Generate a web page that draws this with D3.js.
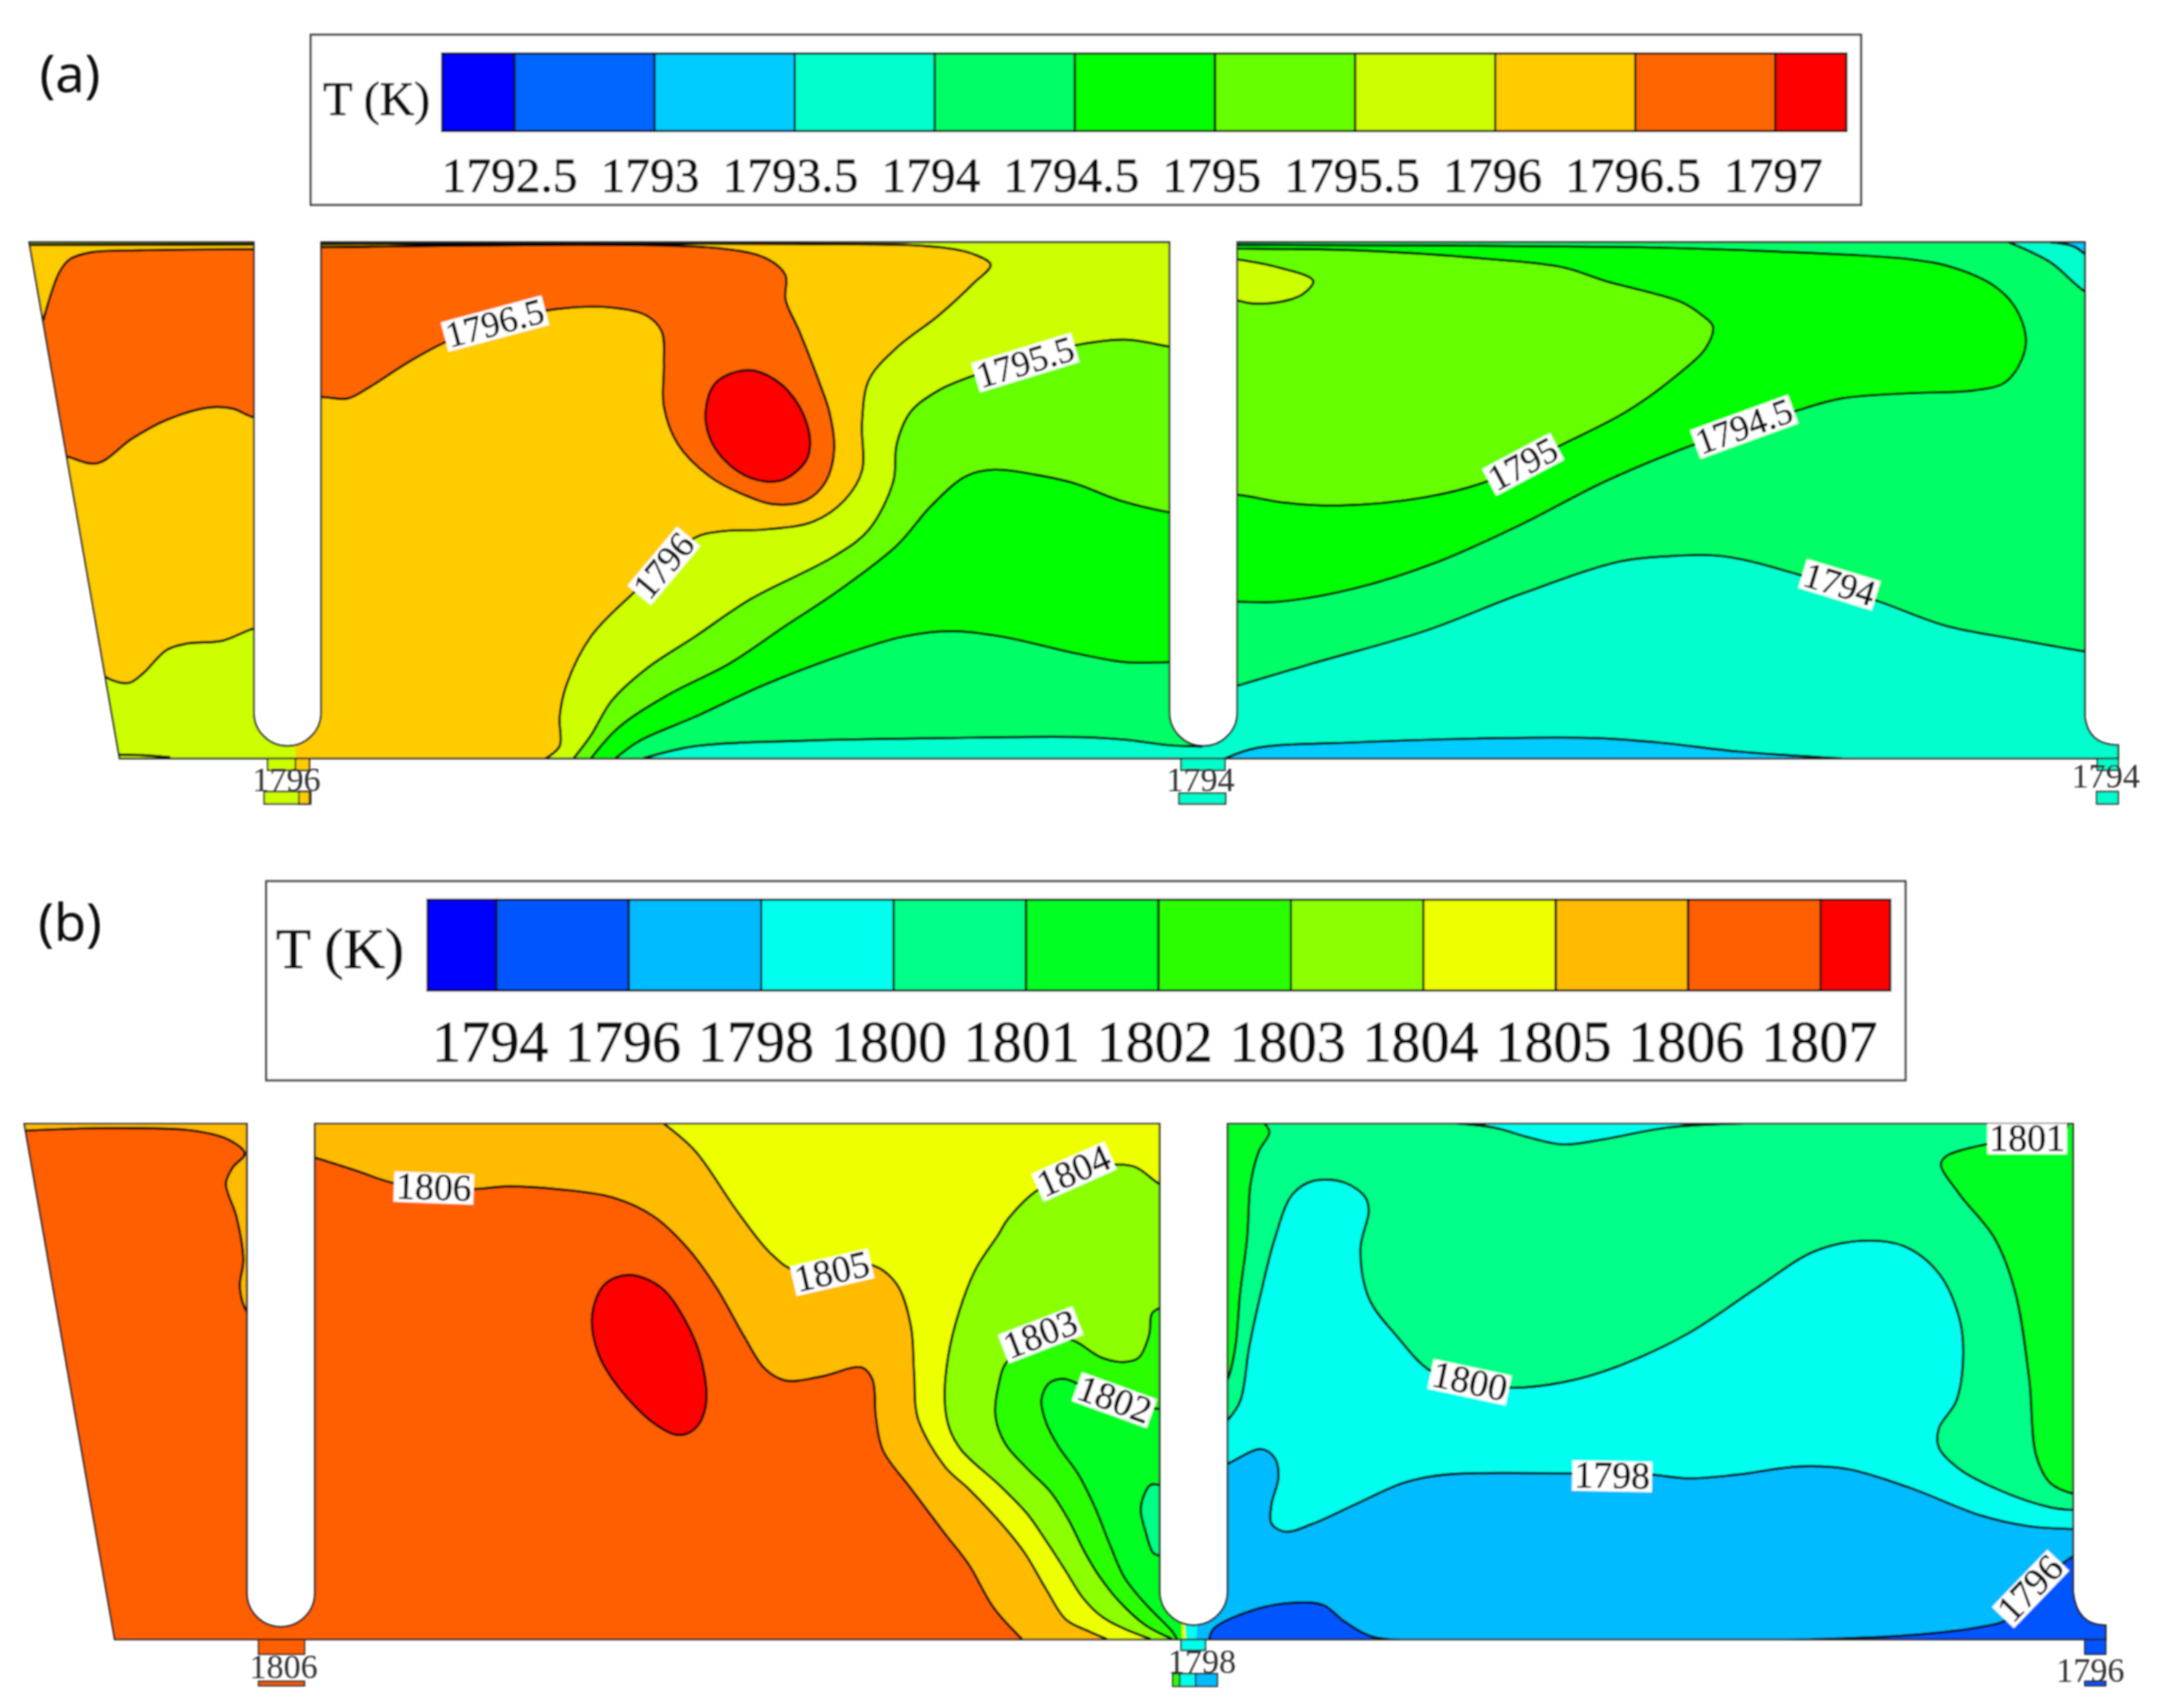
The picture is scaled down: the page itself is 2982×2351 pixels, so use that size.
<!DOCTYPE html>
<html>
<head>
<meta charset="utf-8">
<script src="https://cdn.jsdelivr.net/npm/d3@7"></script>
<style>
  html, body { margin: 0; padding: 0; background: #fff; }
  svg { display: block; }
</style>
</head>
<body>
<div id="vis"></div>
<script type="text/javascript">
// legend levels
const levelsA = ["1792.5","1793","1793.5","1794","1794.5","1795","1795.5","1796","1796.5","1797"];
const colorsA = ["#0000ff","#0066ff","#00ccff","#00ffcc","#00ff66","#00ff00","#66ff00","#ccff00","#ffcc00","#ff6600","#ff0000"];
const levelsB = ["1794","1796","1798","1800","1801","1802","1803","1804","1805","1806","1807"];
const colorsB = ["#0000ff","#0055ff","#00bbff","#00ffee","#00ff88","#00ff22","#2bff00","#8cff00","#eeff00","#ffbb00","#ff5f00","#ff0000"];

// panel (a) contours, in grid units
const a_hotLeft = [[62,600],[85,510],[100,485],[130,472],[200,468],[365,466],[410,466],[425,620],[410,780],[365,780],[335,764],[300,762],[240,785],[190,820],[140,866],[100,855],[50,830]];
const a_coolLeft = [[140,1250],[155,1268],[185,1277],[205,1260],[240,1215],[270,1203],[320,1198],[365,1175],[425,1160]];
const a_hotMid = [[420,742],[462,742],[500,745],[530,725],[590,675],[640,640],[720,600],[800,578],[880,575],[930,590],[952,620],[955,680],[955,760],[975,830],[1020,890],[1070,925],[1115,943],[1160,935],[1188,900],[1200,840],[1193,770],[1180,720],[1150,620],[1130,560],[1130,515],[1105,485],[1040,465],[462,462],[420,462]];
const a_peak = [[1075,692],[1115,710],[1150,760],[1165,820],[1160,860],[1130,895],[1100,900],[1060,880],[1025,830],[1015,770],[1030,715]];
const a_1796 = [[785,1418],[805,1395],[805,1340],[815,1280],[850,1190],[910,1110],[955,1058],[1000,1005],[1040,993],[1100,990],[1170,975],[1215,935],[1240,880],[1240,790],[1250,710],[1290,650],[1350,590],[1400,530],[1425,495],[1400,475],[1350,462],[1140,456],[462,456],[365,457],[30,458]];
const a_1795_5 = [[825,1418],[850,1375],[880,1310],[930,1250],[1000,1190],[1080,1120],[1200,1040],[1250,990],[1285,900],[1290,830],[1310,770],[1350,730],[1405,700],[1475,670],[1549,645],[1619,635],[1682,648],[1720,655]];
const a_1795 = [[850,1418],[890,1360],[960,1300],[1050,1240],[1130,1170],[1200,1110],[1290,1020],[1340,945],[1390,890],[1430,878],[1500,890],[1549,905],[1609,935],[1682,958],[1720,965]];
const a_1794_5 = [[885,1418],[920,1385],[1000,1340],[1100,1280],[1200,1230],[1300,1190],[1370,1180],[1440,1190],[1549,1222],[1619,1238],[1682,1238],[1720,1238]];
const a_1794 = [[925,1418],[1000,1395],[1150,1385],[1350,1380],[1549,1378],[1619,1383],[1679,1393],[1735,1396]];
const a_r1794 = [[1740,1298],[1780,1282],[1889,1240],[2049,1180],[2189,1110],[2329,1050],[2399,1040],[2479,1040],[2589,1075],[2704,1125],[2799,1170],[2899,1195],[2999,1218],[3040,1225]];
const a_r1794_5 = [[1740,1125],[1780,1125],[1839,1125],[1949,1100],[2069,1050],[2189,980],[2309,900],[2439,830],[2579,770],[2649,745],[2749,735],[2839,730],[2884,715],[2909,670],[2914,630],[2899,575],[2869,535],[2809,500],[2749,485],[2549,470],[2349,462],[1780,458],[1740,458]];
const a_r1795 = [[1740,925],[1780,925],[1849,940],[1929,945],[2049,930],[2139,900],[2249,830],[2339,770],[2409,705],[2454,650],[2464,610],[2449,590],[2419,565],[2309,525],[2249,500],[2149,485],[1949,468],[1780,465],[1740,465]];
const a_r1795_5 = [[1740,480],[1780,485],[1839,500],[1889,525],[1874,550],[1839,565],[1799,567],[1780,562],[1740,560]];
const a_corner = [[2889,453],[2949,490],[2999,545],[3040,570]];
const a_cornerBlue = [[2949,453],[2985,462],[3010,490]];
const a_floorBlue = [[1762,1418],[1809,1398],[1949,1388],[2149,1380],[2299,1380],[2399,1390],[2499,1405],[2649,1418]];
const a_floorTick = [[172,1411],[205,1412],[245,1416]];

// panel (b) contours, in grid units
const b_leftStrip = [[30,503],[150,498],[280,503],[330,520],[352,545],[335,570],[325,600],[340,660],[350,740],[345,790],[355,835],[380,860]];
const b_1806 = [[420,540],[453,552],[510,575],[570,600],[680,610],[730,605],[800,610],[880,625],[940,660],[990,720],[1030,790],[1070,880],[1100,940],[1130,962],[1180,955],[1240,938],[1255,960],[1260,1030],[1270,1090],[1310,1160],[1359,1243],[1394,1301],[1429,1379],[1470,1437]];
const b_peak = [[905,768],[950,790],[985,850],[1010,930],[1015,1010],[1000,1050],[975,1062],[940,1040],[890,975],[860,910],[852,840],[870,785]];
const b_1805 = [[955,490],[1000,540],[1060,650],[1110,730],[1145,760],[1255,750],[1290,785],[1310,860],[1315,950],[1320,1030],[1359,1120],[1394,1162],[1443,1229],[1474,1279],[1505,1346],[1533,1401],[1568,1424],[1592,1437]];
const b_1804 = [[1700,620],[1667,600],[1634,570],[1604,565],[1570,575],[1495,610],[1450,665],[1436,694],[1404,756],[1380,834],[1364,917],[1359,1001],[1366,1051],[1383,1090],[1439,1156],[1477,1206],[1505,1257],[1533,1312],[1558,1362],[1585,1396],[1617,1418],[1655,1437]];
const b_1803 = [[1700,815],[1669,828],[1657,839],[1653,878],[1638,920],[1617,928],[1585,920],[1537,886],[1497,900],[1450,925],[1436,973],[1432,1028],[1446,1078],[1477,1123],[1512,1168],[1537,1218],[1561,1279],[1582,1323],[1610,1368],[1648,1412],[1686,1437]];
const b_1802 = [[1700,1014],[1669,1014],[1659,1013],[1603,995],[1549,967],[1530,959],[1509,967],[1498,998],[1505,1040],[1523,1084],[1551,1134],[1575,1195],[1596,1262],[1617,1323],[1648,1373],[1686,1423],[1693,1437]];
const b_1801 = [[1700,1154],[1669,1154],[1655,1154],[1641,1195],[1648,1240],[1659,1279],[1669,1284],[1700,1284]];
const b_rStrip = [[1745,1000],[1766,960],[1777,900],[1784,800],[1794,700],[1799,600],[1811,540],[1826,505],[1815,485]];
const b_1800 = [[1745,1060],[1766,1035],[1784,1000],[1797,900],[1814,800],[1834,700],[1859,620],[1889,595],[1934,598],[1964,625],[1969,650],[1957,720],[1969,810],[2009,880],[2059,945],[2114,962],[2169,975],[2249,965],[2329,935],[2429,875],[2529,790],[2609,725],[2679,705],[2739,715],[2789,765],[2819,850],[2824,920],[2814,1000],[2789,1050],[2789,1085],[2819,1125],[2879,1165],[2949,1195],[2982,1200],[3040,1200]];
const b_1798 = [[1745,1125],[1766,1115],[1814,1088],[1834,1105],[1839,1140],[1829,1190],[1829,1225],[1849,1240],[1889,1225],[1949,1190],[2019,1150],[2079,1135],[2264,1133],[2374,1135],[2429,1142],[2499,1135],[2589,1120],[2659,1125],[2749,1160],[2849,1210],[2919,1230],[2982,1235],[3040,1235]];
const b_topCyan = [[2079,488],[2149,497],[2199,515],[2249,528],[2309,518],[2399,497],[2554,488]];
const b_rightGreen = [[3040,1175],[2982,1170],[2949,1150],[2929,1100],[2919,960],[2899,800],[2869,700],[2819,620],[2792,565],[2799,550],[2859,527],[2916,515],[2971,500],[2976,470]];
const b_1796L = [[1739,1440],[1746,1418],[1808,1382],[1869,1370],[1904,1375],[1934,1405],[1974,1433],[2049,1440]];
const b_1796R = [[2549,1440],[2749,1430],[2849,1415],[2889,1400],[2921,1345],[2982,1285],[3040,1240]];
const b_neckCyan = [[1707,1445],[1707,1395],[1720,1395],[1720,1445]];

// contour labels: text, grid x, grid y, rotation in degrees
const labelsA = [["1796.5",712,605,-15],["1795.5",1475,678,-17],["1796",955,1058,-50],["1795",2191,868,-28],["1794.5",2509,798,-20],["1794",2646,1093,17]];
const labelsB = [["1806",624,608,2],["1805",1197,763,-13],["1804",1545,578,-24],["1803",1497,878,-21],["1802",1603,998,20],["1800",2114,965,12],["1798",2319,1138,1],["1801",2916,518,0],["1796",2921,1345,-46]];
const outletTextA = [["1796",412,1458],["1794",1727,1458],["1794",3029,1451]];
const outletTextB = [["1806",408,1488],["1798",1729,1478],["1796",3007,1495]];

// outlet stubs: x0, x1, y0, y1, fill
const outletsA = [[385,445,1418,1440,"#ccff00"],[425,445,1418,1440,"#ffcc00"],[380,447,1480,1503,"#ccff00"],[430,445,1480,1503,"#ffcc00"],[1699,1762,1418,1440,"#00ffcc"],[1696,1763,1483,1503,"#00ffcc"],[3017,3047,1418,1440,"#00ffcc"],[3016,3047,1480,1503,"#00ffcc"]];
const outletsB = [[372,438,1438,1465,"#ff5f00"],[372,438,1515,1523,"#ff5f00"],[1699,1734,1438,1458,"#00ffee"],[1687,1697,1501,1524,"#2bff00"],[1697,1720,1501,1524,"#00ffee"],[1720,1751,1501,1524,"#00bbff"],[2999,3029,1438,1465,"#0055ff"],[2999,3029,1515,1523,"#0055ff"]];

const w = 2982, h = 2351;
const serif = "'Liberation Serif', 'Times New Roman', serif";

const svg = d3.select("#vis").append("svg").attr("width", w).attr("height", h).attr("viewBox", [0, 0, w, h]);
const defs = svg.append("defs");
defs.append("filter").attr("id", "soft").attr("filterUnits", "userSpaceOnUse")
  .attr("x", 0).attr("y", 0).attr("width", w).attr("height", h)
  .append("feGaussianBlur").attr("stdDeviation", 0.9);
const root = svg.append("g").attr("filter", "url(#soft)");

const x = d3.scaleLinear().domain([0, 1568]).range([0, 1500]);
const yA = d3.scaleLinear().domain([0, 1562]).range([0, 1150]);
const yB = d3.scaleLinear().domain([0, 1564]).range([1180, 2351]);

function legend(cfg) {
  const g = root.append("g");
  const y = cfg.y;
  g.append("rect").attr("x", x(cfg.frame[0])).attr("y", y(cfg.frame[2]))
    .attr("width", x(cfg.frame[1]) - x(cfg.frame[0])).attr("height", y(cfg.frame[3]) - y(cfg.frame[2]))
    .attr("fill", "#fff").attr("stroke", "#444").attr("stroke-width", 3);
  const edge = d3.scalePoint().domain(cfg.levels).range(cfg.edges);
  const edges = [cfg.bar[0]].concat(cfg.levels.map(edge), [cfg.bar[1]]);
  g.selectAll("rect.cell").data(cfg.colors).join("rect").attr("class", "cell")
    .attr("x", (d, i) => x(edges[i])).attr("y", y(cfg.bar[2]))
    .attr("width", (d, i) => x(edges[i + 1]) - x(edges[i])).attr("height", y(cfg.bar[3]) - y(cfg.bar[2]))
    .attr("fill", d => d).attr("stroke", "#111").attr("stroke-width", 3);
  const tick = d3.scalePoint().domain(cfg.levels).range(cfg.ticks);
  g.selectAll("text.tick").data(cfg.levels).join("text").attr("class", "tick")
    .attr("x", d => x(tick(d))).attr("y", y(cfg.baseline))
    .attr("text-anchor", "middle").attr("font-family", serif).attr("font-size", cfg.font)
    .attr("fill", "#111").attr("stroke", "#111").attr("stroke-width", 1)
    .text(d => d);
  g.append("text").attr("x", x(cfg.title[0])).attr("y", y(cfg.title[1]))
    .attr("font-family", serif).attr("font-size", cfg.title[2])
    .attr("fill", "#111").attr("stroke", "#111").attr("stroke-width", 1).text("T (K)");
}

legend({y: yA, levels: levelsA, colors: colorsA, frame: [447, 2677, 65, 383], bar: [636, 2656, 100, 245],
  edges: [740, 2554], ticks: [733, 2551], baseline: 358, font: 68, title: [465, 215, 66]});
legend({y: yB, levels: levelsB, colors: colorsB, frame: [383, 2741, 44, 410], bar: [615, 2719, 78, 245],
  edges: [714, 2619], ticks: [705, 2617], baseline: 375, font: 80, title: [397, 203, 79]});

root.append("text").attr("x", x(57)).attr("y", yA(172)).attr("font-family", "'Noto Sans', sans-serif").attr("font-size", 72).attr("fill", "#111").text("(a)");
root.append("text").attr("x", x(55)).attr("y", yB(153)).attr("font-family", "'Noto Sans', sans-serif").attr("font-size", 72).attr("fill", "#111").text("(b)");

function outlinePath(d, y) {
  const p = d3.path();
  p.moveTo(x(d.left), y(d.top));
  d.stoppers.forEach(s => {
    const r = (x(s[1]) - x(s[0])) / 2;
    const cy = y(s[2]) - r;
    p.lineTo(x(s[0]), y(d.top));
    p.lineTo(x(s[0]), cy);
    p.arc(x(s[0]) + r, cy, r, Math.PI, 0, true);
    p.lineTo(x(s[1]), y(d.top));
  });
  p.lineTo(x(d.wall), y(d.top));
  p.lineTo(x(d.wall), y(d.flareTop));
  p.quadraticCurveTo(x(d.wall + 5), y(d.flareEnd), x(d.flareX), y(d.flareEnd));
  p.lineTo(x(d.flareX), y(d.bottom));
  p.lineTo(x(d.foot), y(d.bottom));
  p.closePath();
  return p.toString();
}

function panel(id, cfg) {
  const y = cfg.y;
  const outline = outlinePath(cfg.shape, y);
  defs.append("clipPath").attr("id", id).append("path").attr("d", outline);
  const line = d3.line().x(d => x(d[0])).y(d => y(d[1]));
  const g = root.append("g");

  g.selectAll("rect.stub").data(cfg.outlets).join("rect").attr("class", "stub")
    .attr("x", d => x(d[0])).attr("y", d => y(d[2]))
    .attr("width", d => x(d[1]) - x(d[0])).attr("height", d => y(d[3]) - y(d[2]))
    .attr("fill", d => d[4]).attr("stroke", "#222").attr("stroke-width", 2);

  const inner = g.append("g").attr("clip-path", "url(#" + id + ")");
  inner.append("path").attr("d", outline).attr("fill", cfg.base);
  cfg.regions.forEach(r => {
    const curve = r.ring ? d3.curveCatmullRomClosed : d3.curveCatmullRom;
    const d = line.curve(curve)(r.line);
    const tail = (r.close || []).map(c => "L" + x(c[0]) + "," + y(c[1])).join("");
    if (r.fill) inner.append("path").attr("d", d + tail + "Z").attr("fill", r.fill);
    if (!r.noStroke) inner.append("path").attr("d", d).attr("fill", "none").attr("stroke", "#000").attr("stroke-width", 3.4);
  });
  g.append("path").attr("d", outline).attr("fill", "none").attr("stroke", "#222").attr("stroke-width", 2.4);

  const labs = g.selectAll("g.lab").data(cfg.labels).join("g").attr("class", "lab")
    .attr("transform", d => "translate(" + x(d[1]) + "," + y(d[2]) + ") rotate(" + d[3] + ")");
  labs.append("rect").attr("fill", "#fff");
  labs.append("text").attr("text-anchor", "middle").attr("y", 16)
    .attr("font-family", serif).attr("font-size", cfg.labelFont)
    .attr("fill", "#111").attr("stroke", "#111").attr("stroke-width", 0.7).text(d => d[0]);
  labs.each(function() {
    const t = d3.select(this).select("text").node().getComputedTextLength();
    d3.select(this).select("rect").attr("x", -t / 2 - 3).attr("y", -21).attr("width", t + 6).attr("height", 42);
  });

  g.selectAll("text.out").data(cfg.outletText).join("text").attr("class", "out")
    .attr("x", d => x(d[1])).attr("y", d => y(d[2]) + 16)
    .attr("text-anchor", "middle").attr("font-family", serif).attr("font-size", 47).attr("fill", "#333").text(d => d[0]);
}

const far = 3300, up = 300, down = 1650;

panel("clipA", {
  y: yA, base: "#ffcc00", labelFont: 50, labels: labelsA, outlets: outletsA, outletText: outletTextA,
  shape: {left: 42, top: 453, stoppers: [[365, 462, 1395], [1682, 1780, 1395]], wall: 2999, flareTop: 1340, flareX: 3047, flareEnd: 1393, bottom: 1418, foot: 172},
  regions: [
    {line: a_hotLeft, fill: "#ff6600"},
    {line: a_coolLeft, fill: "#ccff00", close: [[425, down], [100, down]]},
    {line: a_hotMid, fill: "#ff6600"},
    {line: a_peak, fill: "#ff0000", ring: true},
    {line: a_1796, fill: "#ccff00", close: [[30, up], [far, up], [far, down], [785, down]]},
    {line: a_1795_5, fill: "#66ff00", close: [[1720, down], [825, down]]},
    {line: a_1795, fill: "#00ff00", close: [[1720, down], [850, down]]},
    {line: a_1794_5, fill: "#00ff66", close: [[1730, down], [885, down]]},
    {line: a_1794, fill: "#00ffcc", close: [[1735, down], [925, down]]},
    {line: [[1730, up], [1730, down]], fill: "#00ffcc", noStroke: true, close: [[far, down], [far, up]]},
    {line: a_r1794, fill: "#00ff66", close: [[far, up], [1740, up]]},
    {line: a_r1794_5, fill: "#00ff00"},
    {line: a_r1795, fill: "#66ff00"},
    {line: a_r1795_5, fill: "#ccff00"},
    {line: a_corner, fill: "#00ffcc", close: [[3040, up], [2889, up]]},
    {line: a_cornerBlue, fill: "#00ccff", close: [[3010, up], [2949, up]]},
    {line: a_floorBlue, fill: "#00ccff", close: [[2649, down], [1762, down]]},
    {line: a_floorTick}
  ]
});

panel("clipB", {
  y: yB, base: "#ff5f00", labelFont: 52, labels: labelsB, outlets: outletsB, outletText: outletTextB,
  shape: {left: 35, top: 490, stoppers: [[355, 453, 1415], [1668, 1766, 1412]], wall: 2982, flareTop: 1350, flareX: 3029, flareEnd: 1412, bottom: 1438, foot: 165},
  regions: [
    {line: b_leftStrip, fill: "#ffbb00", close: [[380, up], [30, up]]},
    {line: b_1806, fill: "#ffbb00", close: [[far, down], [far, up], [420, up]]},
    {line: b_peak, fill: "#ff0000", ring: true},
    {line: b_1805, fill: "#eeff00", close: [[far, down], [far, up], [955, up]]},
    {line: b_1804, fill: "#8cff00", close: [[1700, down], [1700, 620]]},
    {line: b_1803, fill: "#2bff00", close: [[1700, down], [1700, 815]]},
    {line: b_1802, fill: "#00ff22", close: [[1700, down], [1700, 1014]]},
    {line: b_1801, fill: "#00ff88"},
    {line: [[1720, up], [1720, down]], fill: "#00bbff", noStroke: true, close: [[far, down], [far, up]]},
    {line: b_neckCyan, fill: "#00ffee", noStroke: true},
    {line: b_1798, fill: "#00ffee", close: [[far, 1235], [far, up], [1745, up]]},
    {line: b_1800, fill: "#00ff88", close: [[far, 1200], [far, up], [1745, up]]},
    {line: b_rStrip, fill: "#00ff22", close: [[1745, up]]},
    {line: b_topCyan, fill: "#00ffee", close: [[2554, up], [2079, up]]},
    {line: b_rightGreen, fill: "#00ff22", close: [[far, 470], [far, 1175]]},
    {line: b_1796L, fill: "#0055ff", close: [[2049, down], [1739, down]]},
    {line: b_1796R, fill: "#0055ff", close: [[far, 1240], [far, down], [2549, down]]}
  ]
});
</script>
</body>
</html>
